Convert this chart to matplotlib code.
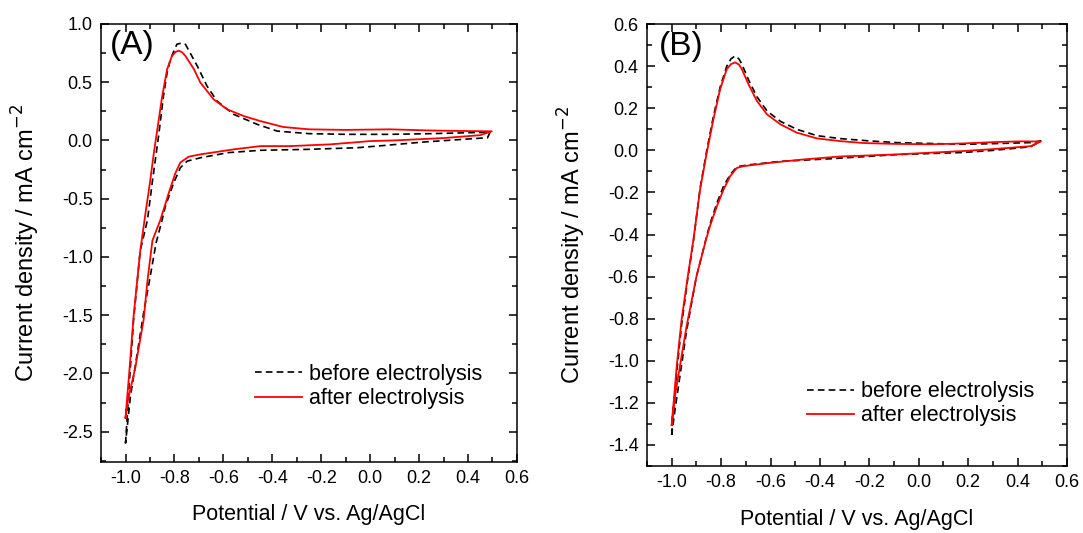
import matplotlib
matplotlib.use('Agg')
import matplotlib.pyplot as plt
from matplotlib.ticker import MultipleLocator

plt.rcParams['font.family'] = ['Liberation Sans', 'DejaVu Sans']
plt.rcParams['axes.unicode_minus'] = False

# ---- panel A data (potential V, current density mA cm-2), one closed CV loop each ----
a_before_x = [-1.0, -0.985, -0.967, -0.94, -0.91, -0.89, -0.864, -0.845, -0.83, -0.816, -0.79,
              -0.772, -0.755, -0.707, -0.667, -0.626, -0.558, -0.462, -0.38, -0.25, -0.1, 0.08,
              0.25, 0.40, 0.49,
              0.48, 0.35, 0.218, 0.05, -0.054, -0.258, -0.449, -0.58, -0.694, -0.748, -0.776,
              -0.803, -0.837, -0.85, -0.875, -0.90, -0.926, -0.95, -0.98, -1.0]
a_before_y = [-2.6, -2.1, -1.54, -0.95, -0.68, -0.35, 0.05, 0.38, 0.58, 0.70, 0.825,
              0.835, 0.825, 0.64, 0.467, 0.338, 0.224, 0.138, 0.08, 0.058, 0.052, 0.052,
              0.058, 0.066, 0.07,
              0.023, 0.005, -0.014, -0.045, -0.063, -0.077, -0.085, -0.105, -0.149, -0.178, -0.235,
              -0.364, -0.565, -0.68, -0.88, -1.18, -1.48, -1.8, -2.2, -2.6]
a_after_x = [-1.0, -0.985, -0.967, -0.94, -0.918, -0.90, -0.884, -0.864, -0.85, -0.83, -0.81,
             -0.795, -0.782, -0.768, -0.755, -0.72, -0.694, -0.64, -0.585, -0.517, -0.449,
             -0.355, -0.25, -0.10, 0.08, 0.25, 0.40, 0.497,
             0.45, 0.30, 0.10, 0.0, -0.163, -0.327, -0.449, -0.558, -0.694, -0.742, -0.776,
             -0.796, -0.823, -0.857, -0.89, -0.91, -0.926, -0.96, -0.99, -1.0]
a_after_y = [-2.38, -2.0, -1.51, -0.95, -0.62, -0.36, -0.106, 0.18, 0.38, 0.61, 0.725,
             0.76, 0.77, 0.755, 0.725, 0.61, 0.496, 0.353, 0.267, 0.209, 0.166,
             0.115, 0.095, 0.09, 0.095, 0.085, 0.08, 0.078,
             0.045, 0.02, 0.0, -0.006, -0.034, -0.049, -0.049, -0.077, -0.12, -0.14, -0.19,
             -0.28, -0.45, -0.68, -0.86, -1.2, -1.54, -1.95, -2.23, -2.38]

# ---- panel B data ----
b_before_x = [-1.0, -0.98, -0.96, -0.935, -0.912, -0.885, -0.858, -0.831, -0.804, -0.777, -0.76,
              -0.743, -0.728, -0.716, -0.689, -0.655, -0.614, -0.56, -0.493, -0.412, -0.317,
              -0.2, -0.088, 0.18, 0.30, 0.453, 0.494,
              0.453, 0.30, 0.18, -0.088, -0.36, -0.56, -0.697, -0.736, -0.763, -0.79, -0.817,
              -0.845, -0.861, -0.90, -0.94, -0.985, -1.0]
b_before_y = [-1.352, -1.06, -0.83, -0.61, -0.43, -0.18, 0.0, 0.163, 0.30, 0.40, 0.435,
              0.449, 0.435, 0.41, 0.335, 0.255, 0.187, 0.138, 0.10, 0.07, 0.056,
              0.045, 0.037, 0.029, 0.032, 0.037, 0.045,
              0.017, 0.0, -0.01, -0.02, -0.04, -0.052, -0.07, -0.078, -0.115, -0.17, -0.25,
              -0.35, -0.42, -0.60, -0.86, -1.22, -1.352]
b_after_x = [-1.0, -0.98, -0.96, -0.935, -0.912, -0.885, -0.858, -0.831, -0.804, -0.777, -0.76,
             -0.743, -0.728, -0.716, -0.689, -0.655, -0.614, -0.56, -0.493, -0.412, -0.317,
             -0.224, -0.1, 0.047, 0.18, 0.318, 0.42, 0.494,
             0.453, 0.30, 0.18, -0.088, -0.317, -0.466, -0.601, -0.709, -0.736, -0.763, -0.79,
             -0.817, -0.845, -0.861, -0.90, -0.94, -0.987, -1.0]
b_after_y = [-1.305, -1.03, -0.805, -0.6, -0.424, -0.186, -0.011, 0.148, 0.29, 0.386, 0.41,
             0.418, 0.408, 0.386, 0.314, 0.235, 0.171, 0.124, 0.084, 0.057, 0.044,
             0.035, 0.031, 0.029, 0.033, 0.04, 0.043, 0.042,
             0.02, 0.006, -0.003, -0.019, -0.029, -0.043, -0.059, -0.075, -0.083, -0.122, -0.186,
             -0.265, -0.36, -0.424, -0.6, -0.837, -1.17, -1.305]

fig = plt.figure(figsize=(10.83, 5.33), dpi=100)
axA = fig.add_axes([0.0933, 0.1332, 0.384, 0.822])
axB = fig.add_axes([0.5974, 0.1257, 0.3878, 0.829])


def style(ax, ylim, ymaj, ymin, tag, tag_x, leg_anchor, xpad):
    ax.set_xlim(-1.1, 0.6)
    ax.set_ylim(*ylim)
    ax.xaxis.set_major_locator(MultipleLocator(0.2))
    ax.xaxis.set_minor_locator(MultipleLocator(0.1))
    ax.yaxis.set_major_locator(MultipleLocator(ymaj))
    ax.yaxis.set_minor_locator(MultipleLocator(ymin))
    ax.tick_params(which='both', direction='in', top=True, right=True, width=1.1, labelsize=13)
    ax.tick_params(which='major', length=5.5, pad=6)
    ax.tick_params(which='minor', length=3.5)
    for s in ax.spines.values():
        s.set_linewidth(1.1)
    ax.set_xlabel('Potential / V vs. Ag/AgCl', fontsize=15.5, labelpad=xpad)
    ax.set_ylabel('Current density / mA cm$^{-2}$', fontsize=17, labelpad=14)
    ax.text(tag_x, 0.985, tag, transform=ax.transAxes, fontsize=24, va='top', ha='left')
    ax.legend(loc='upper left', bbox_to_anchor=leg_anchor, frameon=False, fontsize=15.5,
              handlelength=2.2, handletextpad=0.33, labelspacing=0.15,
              borderpad=0, borderaxespad=0)


dash = (0, (4, 2.5))
axA.plot(a_before_x, a_before_y, color='black', ls=dash, lw=1.2, label='before electrolysis')
axA.plot(a_after_x, a_after_y, color='#ff0000', lw=1.3, label='after electrolysis')
style(axA, (-2.76, 1.0), 0.5, 0.25, '(A)', 0.022, (0.37, 0.224), 12)

axB.plot(b_before_x, b_before_y, color='black', ls=dash, lw=1.2, label='before electrolysis')
axB.plot(b_after_x, b_after_y, color='#ff0000', lw=1.3, label='after electrolysis')
style(axB, (-1.5, 0.6), 0.2, 0.1, '(B)', 0.029, (0.381, 0.192), 12.5)

fig.savefig('out.png', dpi=100, facecolor='white')
